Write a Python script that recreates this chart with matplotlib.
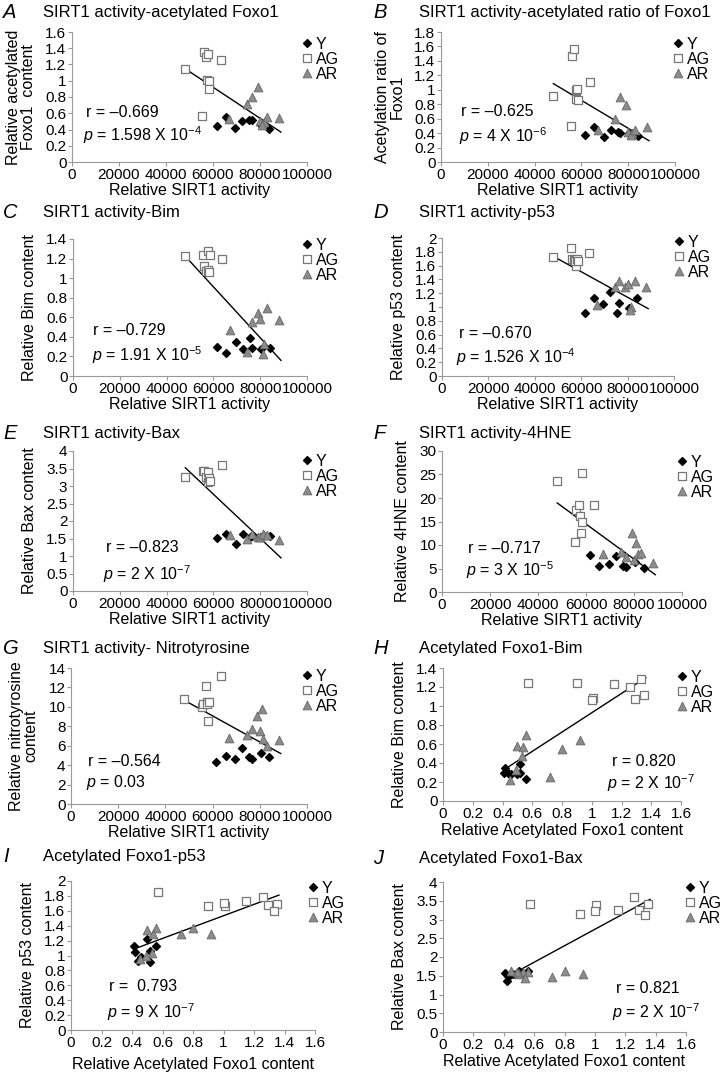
import numpy as np
import matplotlib
matplotlib.use("Agg")
import matplotlib.pyplot as plt
from matplotlib.ticker import FuncFormatter, MultipleLocator

plt.rcParams['font.family'] = ['Liberation Sans', 'DejaVu Sans']
plt.rcParams['mathtext.fontset'] = 'custom'
plt.rcParams['mathtext.rm'] = 'Liberation Sans'
plt.rcParams['mathtext.it'] = 'Liberation Sans:italic'

# relative SIRT1 activity per subject
sirt1_y = [61500, 65500, 69500, 72500, 75500, 76500, 80500, 84000]
sirt1_ag = [48000, 55500, 56000, 57000, 57800, 57500, 58200, 58500, 63500]
sirt1_ar = [67000, 74500, 76500, 79000, 80000, 81500, 81000, 83000, 88000]

# relative acetylated Foxo1 content
acfoxo_y = [0.44, 0.56, 0.42, 0.50, 0.52, 0.52, 0.46, 0.41]
acfoxo_ag = [1.15, 0.57, 1.35, 1.29, 1.33, 1.01, 1.00, 0.90, 1.26]
acfoxo_ar = [0.53, 0.72, 0.80, 0.92, 0.50, 0.49, 0.45, 0.56, 0.54]

# acetylation ratio of Foxo1
ratio_y = [0.37, 0.49, 0.34, 0.45, 0.42, 0.40, 0.40, 0.36]
ratio_ag = [0.92, 0.50, 1.47, 1.56, 1.00, 0.87, 1.01, 0.86, 1.11]
ratio_ar = [0.45, 0.60, 0.90, 0.79, 0.42, 0.40, 0.38, 0.45, 0.48]

# Bim
bim_y = [0.30, 0.23, 0.35, 0.28, 0.39, 0.29, 0.28, 0.29]
bim_ag = [1.23, 1.24, 1.12, 1.07, 1.28, 1.08, 1.06, 1.24, 1.20]
bim_ar = [0.47, 0.25, 0.55, 0.64, 0.58, 0.33, 0.22, 0.70, 0.57]

# p53
p53_y = [0.92, 1.13, 1.05, 1.22, 0.91, 1.06, 0.98, 1.13]
p53_ag = [1.73, 1.85, 1.69, 1.68, 1.60, 1.67, 1.70, 1.67, 1.78]
p53_ar = [1.03, 1.29, 1.37, 1.29, 1.34, 1.00, 0.95, 1.37, 1.29]

# Bax
bax_y = [1.52, 1.62, 1.35, 1.62, 1.55, 1.58, 1.55, 1.58]
bax_ag = [3.26, 3.42, 3.42, 3.25, 3.12, 3.40, 3.23, 3.14, 3.60]
bax_ar = [1.60, 1.48, 1.62, 1.55, 1.55, 1.60, 1.62, 1.60, 1.45]

# 4HNE
hne_y = [7.8, 5.5, 6.0, 7.6, 5.5, 5.4, 6.4, 5.1]
hne_ag = [23.7, 10.7, 17.4, 18.5, 12.6, 16.1, 15.0, 25.4, 18.5]
hne_ar = [8.0, 8.6, 7.4, 12.5, 6.8, 8.0, 10.4, 8.4, 6.1]

# nitrotyrosine
nitro_y = [4.3, 4.9, 4.6, 5.8, 4.8, 4.6, 5.2, 4.8]
nitro_ag = [10.8, 10.0, 10.3, 12.1, 10.5, 10.3, 8.5, 10.5, 13.2]
nitro_ar = [6.8, 7.1, 7.7, 9.1, 7.5, 6.7, 9.8, 6.0, 6.6]

sirt1 = (sirt1_y, sirt1_ag, sirt1_ar)
acfoxo = (acfoxo_y, acfoxo_ag, acfoxo_ar)

letters = ['A', 'B', 'C', 'D', 'E', 'F', 'G', 'H', 'I', 'J']
titles = ['SIRT1 activity-acetylated Foxo1', 'SIRT1 activity-acetylated ratio of Foxo1',
          'SIRT1 activity-Bim', 'SIRT1 activity-p53', 'SIRT1 activity-Bax',
          'SIRT1 activity-4HNE', 'SIRT1 activity- Nitrotyrosine', 'Acetylated Foxo1-Bim',
          'Acetylated Foxo1-p53', 'Acetylated Foxo1-Bax']
ylabels = ['Relative acetylated\nFoxo1  content', 'Acetylation ratio of\nFoxo1',
           'Relative Bim content', 'Relative p53 content', 'Relative Bax content',
           'Relative 4HNE content', 'Relative nitrotyrosine\ncontent', 'Relative Bim content',
           'Relative p53 content', 'Relative Bax content']
r_texts = ['\u20130.669', '\u20130.625', '\u20130.729', '\u20130.670', '\u20130.823',
           '\u20130.717', '\u20130.564', '0.820', ' 0.793', '0.821']
p_texts = ['1.598 X 10$^{-4}$', '4 X 10$^{-6}$', '1.91 X 10$^{-5}$',
           '1.526 X 10$^{-4}$', '2 X 10$^{-7}$', '3 X 10$^{-5}$',
           '0.03', '2 X 10$^{-7}$', '9 X 10$^{-7}$', '2 X 10$^{-7}$']
xs = [sirt1] * 7 + [acfoxo] * 3
ys = [acfoxo, (ratio_y, ratio_ag, ratio_ar), (bim_y, bim_ag, bim_ar), (p53_y, p53_ag, p53_ar),
      (bax_y, bax_ag, bax_ar), (hne_y, hne_ag, hne_ar), (nitro_y, nitro_ag, nitro_ar),
      (bim_y, bim_ag, bim_ar), (p53_y, p53_ag, p53_ar), (bax_y, bax_ag, bax_ar)]
ymax = [1.6, 1.8, 1.4, 2, 4, 30, 14, 1.4, 2, 4]
ystep = [0.2, 0.2, 0.2, 0.2, 0.5, 5, 2, 0.2, 0.2, 0.5]

# axes boxes in pixels: left, right, top, bottom
boxes = [(72, 307, 32, 162), (441, 675, 32, 162), (73, 307, 239, 376), (442, 674, 238, 376),
         (73, 307, 451, 591), (442, 682, 451, 592), (71, 307, 668, 804), (443, 681, 668, 801),
         (71, 315, 881, 1030), (443, 686, 882, 1032)]
title_y = [12, 12, 212, 213, 433, 433, 649, 648, 857, 858]
r_pos = [(0.06, 0.377), (0.085, 0.385), (0.085, 0.33), (0.073, 0.31), (0.14, 0.31),
         (0.11, 0.31), (0.07, 0.31), (0.71, 0.30), (0.156, 0.29), (0.71, 0.29)]
p_pos = [(0.047, 0.21), (0.077, 0.20), (0.08, 0.15), (0.06, 0.14), (0.13, 0.12),
         (0.10, 0.155), (0.064, 0.16), (0.69, 0.135), (0.147, 0.12), (0.695, 0.13)]
# legend: x of marker column and y of first entry, in pixels
leg_x = [307, 678, 307, 679, 307, 682, 307, 682, 313, 690]
leg_y = [45, 45, 246, 243, 462, 463, 677, 678, 889, 889]
xlab_pad = [1, 1, 1, 1, 1, 1, 1, 2, 5, 2]

W, H = 720, 1072
fig = plt.figure(figsize=(W / 100, H / 100), dpi=100)

styles = [dict(marker='D', s=16, color='black', label='Y'),
          dict(marker='s', s=36, facecolor='white', edgecolor='#777777', linewidths=0.9, label='AG'),
          dict(marker='^', s=40, facecolor='#8c8c8c', edgecolor='#666666', linewidths=0.6, label='AR')]

for i in range(10):
    l, r, t, b = boxes[i]
    ax = fig.add_axes([l / W, 1 - b / H, (r - l) / W, (b - t) / H])
    gx, gy = xs[i], ys[i]
    for k in range(3):
        ax.scatter(gx[k], gy[k], zorder=3, **styles[k])
    allx = np.concatenate([np.asarray(v, float) for v in gx])
    ally = np.concatenate([np.asarray(v, float) for v in gy])
    m, c = np.polyfit(allx, ally, 1)
    lx = np.array([allx.min(), allx.max() * 1.01])
    ax.plot(lx, m * lx + c, color='black', lw=1, zorder=2)

    if i < 7:
        ax.set_xlim(0, 100000)
        ax.xaxis.set_major_locator(MultipleLocator(20000))
        ax.set_xlabel('Relative SIRT1 activity', fontsize=11.5, labelpad=xlab_pad[i])
    else:
        ax.set_xlabel('Relative Acetylated Foxo1 content', fontsize=11.5, labelpad=xlab_pad[i])
        ax.set_xlim(0, 1.6)
        ax.xaxis.set_major_locator(MultipleLocator(0.2))
    ax.set_ylim(0, ymax[i])
    ax.yaxis.set_major_locator(MultipleLocator(ystep[i]))
    fmt = FuncFormatter(lambda v, p: '%g' % round(v, 6))
    ax.xaxis.set_major_formatter(fmt)
    ax.yaxis.set_major_formatter(fmt)
    ax.set_ylabel(ylabels[i], fontsize=11.5, labelpad=7, linespacing=1.0)

    for s in ['top', 'right']:
        ax.spines[s].set_visible(False)
    for s in ['left', 'bottom']:
        ax.spines[s].set_color('#999999')
        ax.spines[s].set_linewidth(0.8)
    ax.tick_params(direction='out', length=3, width=0.8, color='#999999', labelsize=11, pad=1)

    ax.text(r_pos[i][0], r_pos[i][1], 'r = ' + r_texts[i], transform=ax.transAxes,
            fontsize=11.5, va='center', ha='left')
    ax.text(p_pos[i][0], p_pos[i][1], r'$p$ = ' + p_texts[i], transform=ax.transAxes,
            fontsize=11.5, va='center', ha='left')

    ax.legend(loc='upper left', bbox_to_anchor=((leg_x[i] - 5) / W, 1 - (leg_y[i] - 8) / H),
              bbox_transform=fig.transFigure, frameon=False, fontsize=11.5,
              handlelength=0.6, handletextpad=0.25, labelspacing=0.0, borderaxespad=0,
              borderpad=0, scatteryoffsets=[0.5])

    tx = 43 if i % 2 == 0 else 419
    lx_ = 3 if i % 2 == 0 else 373
    fig.text(tx / W, 1 - title_y[i] / H, titles[i], fontsize=12, va='center', ha='left')
    fig.text(lx_ / W, 1 - title_y[i] / H, letters[i], fontsize=14.5, style='italic',
             va='center', ha='left')

fig.savefig('out.png', dpi=100)
